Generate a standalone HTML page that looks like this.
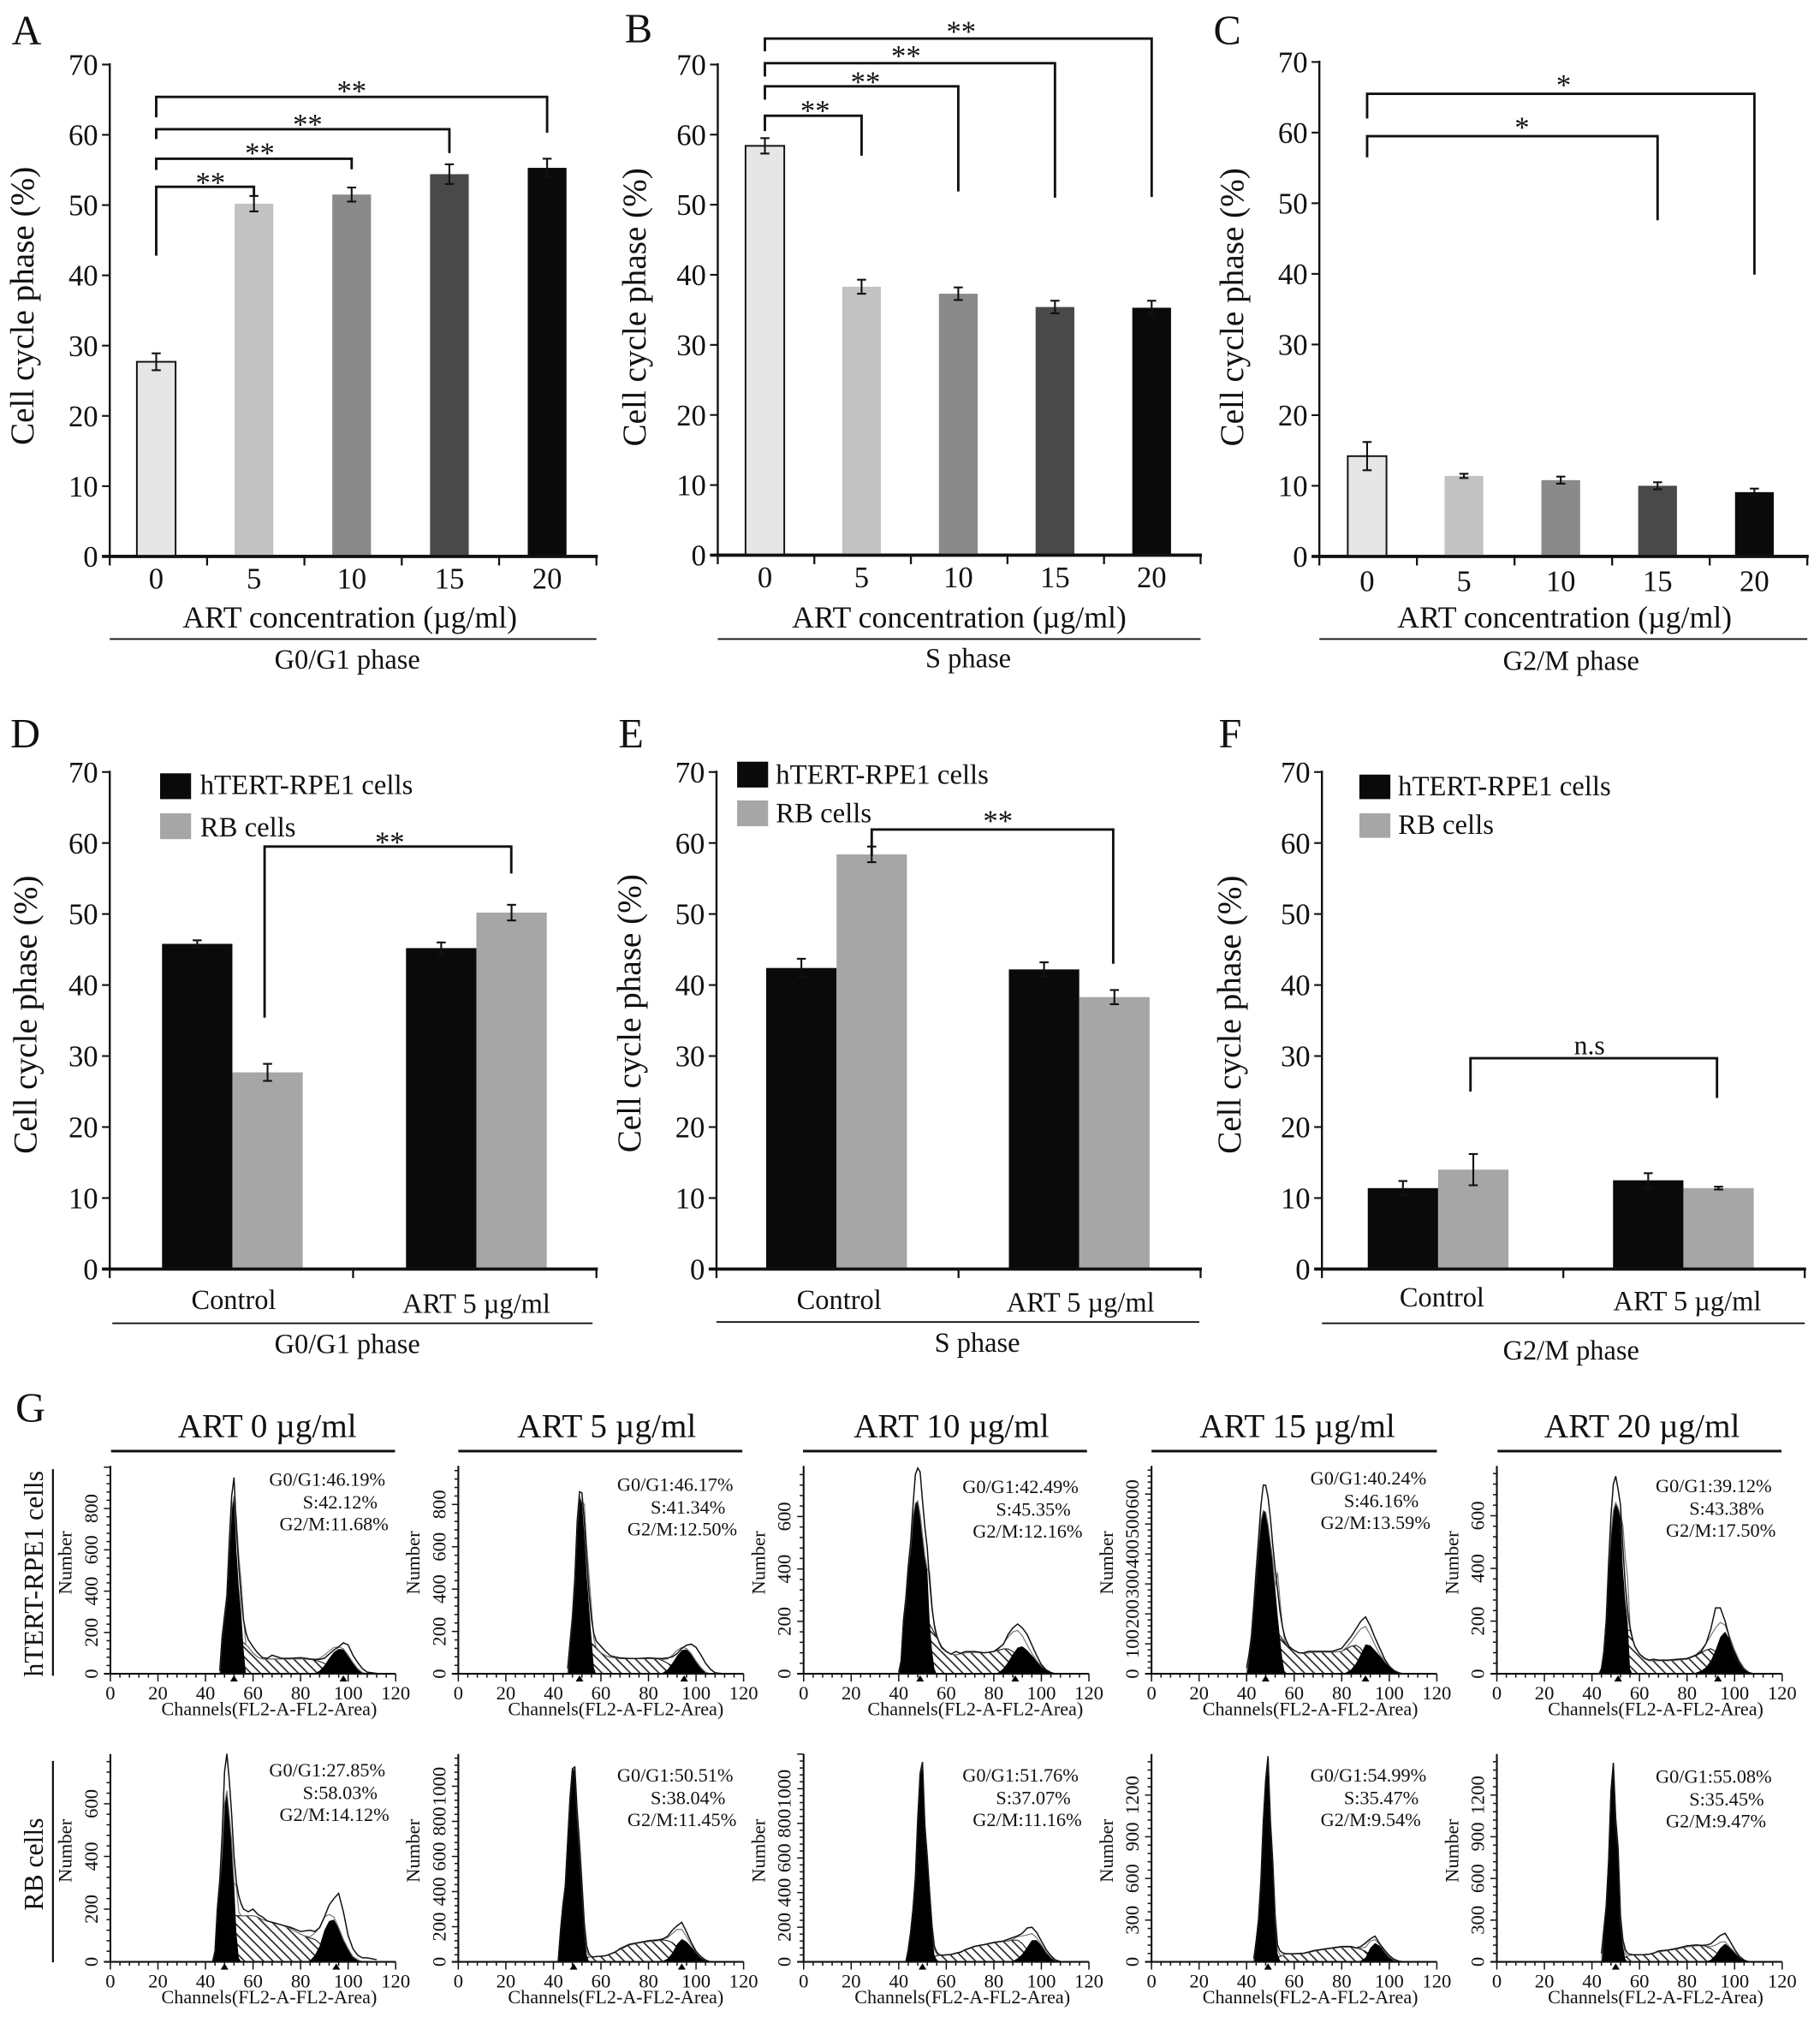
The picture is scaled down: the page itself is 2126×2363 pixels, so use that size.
<!DOCTYPE html>
<html lang="en">
<head>
<meta charset="utf-8">
<title>Cell cycle phase distribution after ART treatment</title>
<style>
html,body{margin:0;padding:0;background:#fff}
svg{display:block}
text{font-family:"Liberation Serif",serif;fill:#111}
.yt{font-size:26px;text-anchor:middle}
.xt{font-size:23.7px;text-anchor:middle}
.ph{font-size:21.5px;text-anchor:middle}
.lt{font-size:21.7px}
.pl{font-size:32px}
.ct{font-size:26px;text-anchor:middle}
.gl{font-size:21.5px;text-anchor:middle}
</style>
</head>
<body>
<svg id="fig" xmlns="http://www.w3.org/2000/svg" width="2126" height="2363" viewBox="0 0 1409.8 1567">
<defs>
<pattern id="hatch" width="5.2" height="5.2" patternUnits="userSpaceOnUse" patternTransform="rotate(-45)">
<line x1="1" y1="0" x2="1" y2="5.2" stroke="#111" stroke-width="1"/>
</pattern>
</defs>
<rect width="1409.8" height="1567" fill="#fff"/>

<text class="pl" x="9" y="34">A</text>
<text class="pl" x="484" y="33">B</text>
<text class="pl" x="940" y="34">C</text>
<text class="pl" x="8" y="579">D</text>
<text class="pl" x="479" y="579">E</text>
<text class="pl" x="944" y="579">F</text>
<text class="pl" x="12" y="1101">G</text>

<text class="yt" transform="translate(26,237) rotate(-90)">Cell cycle phase (%)</text>
<text class="yt" transform="translate(500,238) rotate(-90)">Cell cycle phase (%)</text>
<text class="yt" transform="translate(963,238) rotate(-90)">Cell cycle phase (%)</text>
<text class="yt" transform="translate(28,786) rotate(-90)">Cell cycle phase (%)</text>
<text class="yt" transform="translate(496,785) rotate(-90)">Cell cycle phase (%)</text>
<text class="yt" transform="translate(961,786) rotate(-90)">Cell cycle phase (%)</text>

<text class="xt" x="271" y="486">ART concentration (µg/ml)</text>
<text class="xt" x="743" y="486">ART concentration (µg/ml)</text>
<text class="xt" x="1212" y="486">ART concentration (µg/ml)</text>
<line x1="85" x2="462" y1="495" y2="495" stroke="#111" stroke-width="1.3"/>
<line x1="556" x2="930" y1="495" y2="495" stroke="#111" stroke-width="1.3"/>
<line x1="1022" x2="1400" y1="495" y2="495" stroke="#111" stroke-width="1.3"/>
<text class="ph" x="269" y="518">G0/G1 phase</text>
<text class="ph" x="750" y="517">S phase</text>
<text class="ph" x="1217" y="519">G2/M phase</text>

<text class="gl" x="181" y="1014">Control</text>
<text class="gl" x="369" y="1017">ART 5 µg/ml</text>
<line x1="87" x2="459" y1="1025" y2="1025" stroke="#111" stroke-width="1.3"/>
<text class="ph" x="269" y="1048">G0/G1 phase</text>

<text class="gl" x="650" y="1014">Control</text>
<text class="gl" x="837" y="1016">ART 5 µg/ml</text>
<line x1="555" x2="929" y1="1024" y2="1024" stroke="#111" stroke-width="1.3"/>
<text class="ph" x="757" y="1047">S phase</text>

<text class="gl" x="1117" y="1012">Control</text>
<text class="gl" x="1307" y="1015">ART 5 µg/ml</text>
<line x1="1024" x2="1398" y1="1025" y2="1025" stroke="#111" stroke-width="1.3"/>
<text class="ph" x="1217" y="1053">G2/M phase</text>

<rect x="124" y="599" width="24" height="20" fill="#0a0a0a"/>
<rect x="124" y="630" width="24" height="20" fill="#a6a6a6"/>
<text class="lt" x="155" y="615">hTERT-RPE1 cells</text>
<text class="lt" x="155" y="648">RB cells</text>
<rect x="571" y="590" width="24" height="20" fill="#0a0a0a"/>
<rect x="571" y="620" width="24" height="20" fill="#a6a6a6"/>
<text class="lt" x="601" y="607">hTERT-RPE1 cells</text>
<text class="lt" x="601" y="637">RB cells</text>
<rect x="1053" y="600" width="24" height="19" fill="#0a0a0a"/>
<rect x="1053" y="630" width="24" height="19" fill="#a6a6a6"/>
<text class="lt" x="1083" y="616">hTERT-RPE1 cells</text>
<text class="lt" x="1083" y="646">RB cells</text>

<text class="ct" x="207" y="1113">ART 0 µg/ml</text>
<text class="ct" x="470" y="1113">ART 5 µg/ml</text>
<text class="ct" x="737" y="1113">ART 10 µg/ml</text>
<text class="ct" x="1005" y="1113">ART 15 µg/ml</text>
<text class="ct" x="1272" y="1113">ART 20 µg/ml</text>
<line x1="86" x2="306" y1="1124" y2="1124" stroke="#111" stroke-width="2"/>
<line x1="355" x2="575" y1="1124" y2="1124" stroke="#111" stroke-width="2"/>
<line x1="622" x2="842" y1="1124" y2="1124" stroke="#111" stroke-width="2"/>
<line x1="892" x2="1113" y1="1124" y2="1124" stroke="#111" stroke-width="2"/>
<line x1="1160" x2="1380" y1="1124" y2="1124" stroke="#111" stroke-width="2"/>

<text font-size="21" text-anchor="middle" transform="translate(33,1219) rotate(-90)">hTERT-RPE1 cells</text>
<line x1="41" x2="41" y1="1138" y2="1298" stroke="#111" stroke-width="1.5"/>
<text font-size="21" text-anchor="middle" transform="translate(33,1444) rotate(-90)">RB cells</text>
<line x1="41" x2="41" y1="1364" y2="1520" stroke="#111" stroke-width="1.5"/>
</svg>

<script>
// ---------- bar chart data ----------
const percentTicks = [0, 10, 20, 30, 40, 50, 60, 70];
const concentrations = ['0', '5', '10', '15', '20'];
const concentrationShades = ['#e6e6e6', '#c2c2c2', '#8a8a8a', '#494949', '#0a0a0a'];
const valuesA = [27.7, 50.2, 51.5, 54.4, 55.3];
const errorsA = [1.2, 1.1, 1.0, 1.4, 1.3];
const valuesB = [58.4, 38.3, 37.3, 35.4, 35.3];
const errorsB = [1.1, 1.0, 0.9, 0.9, 1.0];
const valuesC = [14.2, 11.4, 10.8, 10.0, 9.1];
const errorsC = [2.0, 0.3, 0.5, 0.5, 0.5];

const htertD = [45.8, 45.2];
const htertErrD = [0.5, 0.8];
const rbD = [27.7, 50.2];
const rbErrD = [1.2, 1.1];
const htertE = [42.4, 42.2];
const htertErrE = [1.3, 1.0];
const rbE = [58.4, 38.3];
const rbErrE = [1.1, 1.0];
const htertF = [11.4, 12.5];
const htertErrF = [1.0, 1.0];
const rbF = [14.0, 11.4];
const rbErrF = [2.2, 0.2];

// significance brackets: [from category, to category, top value, left end value, right end value, label, label category position, label value]
const bracketsA = [
  [0, 1, 52.6, 42.8, 51.3, '**', 0.555, 53.8],
  [0, 2, 56.6, 55.0, 55.1, '**', 1.06, 58.0],
  [0, 3, 60.8, 59.4, 57.4, '**', 1.55, 62.1],
  [0, 4, 65.4, 62.5, 60.3, '**', 2.0, 66.8]
];
const bracketsB = [
  [0, 1, 62.7, 60.5, 57.0, '**', 0.52, 64.0],
  [0, 2, 66.9, 65.0, 51.9, '**', 1.04, 68.1],
  [0, 3, 70.2, 68.3, 51.0, '**', 1.46, 71.8],
  [0, 4, 73.7, 71.9, 51.1, '**', 2.03, 75.3]
];
const bracketsC = [
  [0, 3, 59.5, 56.5, 47.6, '*', 1.6, 61.3],
  [0, 4, 65.5, 62.0, 39.9, '*', 2.03, 67.3]
];
const bracketsD = [[0.132, 1.143, 59.5, 35.4, 55.7, '**', 0.645, 60.7]];
const bracketsE = [[0.145, 1.14, 61.9, 58.2, 43.0, '**', 0.665, 63.7]];
const bracketsF = [[0.132, 1.137, 29.7, 25.0, 24.1, 'n.s', 0.617, 31.5]];

// ---------- flow cytometry data (counts read per channel) ----------
const channelTicks = [0, 20, 40, 60, 80, 100, 120];
const flowYTicks = [
  [0, 200, 400, 600, 800], [0, 200, 400, 600, 800], [0, 200, 400, 600], [0, 100, 200, 300, 400, 500, 600], [0, 200, 400, 600],
  [0, 200, 400, 600], [0, 200, 400, 600, 800, 1000], [0, 200, 400, 600, 800, 1000], [0, 300, 600, 900, 1200], [0, 300, 600, 900, 1200]
];
const flowAxisMax = [1006, 982, 793, 694, 789, 789, 1184, 1201, 1496, 1496];
const flowStatsG1 = ['46.19', '46.17', '42.49', '40.24', '39.12', '27.85', '50.51', '51.76', '54.99', '55.08'];
const flowStatsS = ['42.12', '41.34', '45.35', '46.16', '43.38', '58.03', '38.04', '37.07', '35.47', '35.45'];
const flowStatsG2 = ['11.68', '12.50', '12.16', '13.59', '17.50', '14.12', '11.45', '11.16', '9.54', '9.47'];
const flowMarkers = [[52, 98], [51, 95], [49, 89], [48, 90], [51, 93], [48, 95], [48.5, 94], [50], [49], [50]];

// first channel of each G1 peak array (arrays step by one channel up to 58)
const g1Start = [46, 46, 40, 40, 43, 43, 42, 43, 43, 44];
const g1Fill = [
  [10, 170, 270, 370, 600, 800, 860, 600, 420, 300, 120, 0, 0],
  [20, 140, 260, 430, 700, 840, 810, 660, 470, 320, 170, 30, 0],
  [5, 50, 200, 280, 400, 480, 600, 650, 660, 610, 530, 450, 400, 200, 90, 20, 0, 0, 0],
  [20, 60, 120, 220, 330, 430, 510, 545, 540, 500, 440, 380, 290, 200, 120, 50, 5, 0, 0],
  [0, 20, 80, 200, 400, 530, 620, 650, 630, 600, 400, 280, 200, 20, 0, 0],
  [0, 40, 200, 300, 420, 600, 650, 560, 460, 300, 110, 15, 0, 0, 0, 0],
  [0, 180, 320, 430, 680, 920, 1090, 1100, 830, 640, 420, 180, 40, 0, 0, 0, 0],
  [0, 70, 170, 300, 480, 820, 1080, 1150, 780, 600, 380, 180, 40, 10, 0, 0],
  [20, 150, 300, 580, 1000, 1300, 1470, 1000, 700, 300, 60, 10, 0, 0, 0, 0],
  [60, 230, 400, 720, 1220, 1430, 1010, 800, 300, 120, 20, 0, 0, 0, 0]
];
const peakOutline = [
  [15, 180, 280, 380, 640, 860, 950, 700, 520, 370, 260, 200, 165],
  [25, 150, 270, 450, 720, 860, 855, 720, 540, 380, 260, 190, 155],
  [5, 50, 205, 290, 410, 500, 640, 760, 785, 770, 660, 560, 480, 350, 250, 185, 145, 120, 100],
  [20, 65, 125, 230, 345, 450, 560, 630, 630, 590, 520, 430, 350, 280, 210, 160, 125, 105, 90],
  [0, 20, 85, 205, 420, 600, 720, 750, 700, 640, 480, 340, 240, 175, 135, 105],
  [0, 42, 205, 310, 480, 720, 790, 690, 560, 400, 300, 250, 220, 200, 195, 190],
  [0, 180, 325, 435, 690, 940, 1100, 1110, 860, 670, 450, 220, 90, 45, 30, 28, 30],
  [0, 70, 172, 305, 490, 830, 1090, 1155, 790, 610, 400, 210, 90, 55, 42, 38],
  [20, 150, 305, 590, 1010, 1310, 1480, 1020, 720, 330, 120, 80, 65, 60, 58, 58],
  [60, 232, 405, 730, 1230, 1432, 1030, 820, 330, 160, 90, 60, 55, 52, 50]
];
const tailChannels = [60, 62, 64, 66, 68, 72, 76, 80, 84, 86, 88, 90, 92, 94, 96, 98, 100, 102, 104, 106, 108, 112];
const tailOutline = [
  [130, 100, 78, 75, 90, 75, 75, 78, 72, 70, 70, 75, 95, 115, 130, 150, 140, 90, 55, 25, 8, 2],
  [130, 105, 85, 80, 75, 72, 72, 75, 72, 72, 75, 80, 95, 120, 135, 140, 125, 90, 50, 22, 5, 0],
  [85, 75, 85, 78, 85, 85, 80, 85, 112, 150, 175, 190, 175, 150, 110, 70, 35, 15, 5, 0, 0, 0],
  [78, 70, 70, 75, 75, 75, 75, 85, 125, 150, 175, 190, 160, 120, 85, 50, 25, 10, 3, 0, 0, 0],
  [75, 60, 52, 55, 52, 52, 55, 58, 72, 85, 115, 170, 250, 250, 200, 130, 70, 35, 15, 5, 0, 0],
  [200, 180, 170, 155, 150, 140, 130, 115, 120, 115, 130, 170, 215, 240, 260, 190, 100, 50, 25, 15, 15, 8],
  [32, 35, 45, 55, 75, 100, 110, 120, 125, 130, 145, 180, 205, 225, 170, 110, 60, 30, 10, 0, 0, 0],
  [40, 42, 50, 55, 70, 90, 100, 112, 120, 130, 140, 150, 165, 195, 200, 170, 120, 70, 35, 10, 2, 0],
  [58, 60, 62, 70, 80, 90, 100, 110, 110, 100, 110, 135, 165, 185, 130, 85, 45, 18, 5, 0, 0, 0],
  [50, 52, 55, 62, 78, 85, 98, 115, 122, 118, 120, 130, 160, 190, 205, 150, 90, 40, 12, 0, 0, 0]
];
const sChannels = [52, 56, 58, 60, 62, 64, 68, 72, 76, 80, 84, 86, 88, 90, 92, 94, 96, 98, 100, 104];
const sPhase = [
  [150, 150, 130, 100, 80, 72, 72, 72, 72, 72, 70, 65, 60, 50, 35, 22, 10, 3, 0, 0],
  [140, 145, 125, 100, 85, 78, 72, 72, 72, 72, 70, 62, 50, 38, 25, 12, 5, 0, 0, 0],
  [205, 140, 105, 85, 75, 72, 80, 82, 80, 85, 95, 95, 85, 65, 40, 20, 8, 0, 0, 0],
  [150, 105, 90, 78, 70, 68, 72, 72, 72, 75, 92, 95, 85, 60, 35, 18, 5, 0, 0, 0],
  [165, 165, 105, 75, 58, 50, 50, 50, 52, 55, 70, 80, 90, 95, 85, 55, 25, 8, 0, 0],
  [175, 175, 175, 175, 170, 160, 150, 140, 125, 105, 90, 85, 70, 50, 25, 10, 0, 0, 0, 0],
  [20, 28, 30, 32, 35, 45, 70, 95, 108, 115, 120, 125, 120, 110, 85, 55, 28, 10, 0, 0],
  [20, 35, 38, 40, 42, 48, 68, 88, 98, 110, 118, 120, 125, 125, 105, 70, 38, 15, 3, 0],
  [20, 55, 58, 58, 58, 60, 75, 88, 98, 105, 108, 100, 90, 75, 50, 25, 8, 0, 0, 0],
  [20, 48, 50, 50, 52, 55, 72, 82, 92, 108, 115, 118, 110, 95, 70, 40, 15, 0, 0, 0]
];
const g2Channels = [80, 82, 84, 86, 88, 90, 92, 94, 96, 98, 100, 102, 104, 106, 108, 110];
const g2Fill = [
  [0, 0, 0, 3, 15, 40, 75, 105, 120, 118, 90, 55, 25, 6, 0, 0],
  [0, 0, 0, 5, 20, 50, 85, 112, 115, 95, 60, 30, 8, 0, 0, 0],
  [0, 5, 20, 45, 75, 100, 105, 90, 70, 50, 30, 15, 5, 0, 0, 0],
  [0, 5, 15, 35, 65, 98, 95, 78, 60, 42, 25, 12, 4, 0, 0, 0],
  [0, 0, 5, 12, 25, 50, 90, 140, 160, 130, 90, 50, 22, 5, 0, 0],
  [0, 0, 5, 25, 60, 120, 155, 160, 130, 85, 50, 20, 8, 0, 0, 0],
  [0, 0, 0, 5, 18, 50, 100, 130, 115, 85, 55, 25, 8, 0, 0, 0],
  [0, 0, 0, 0, 5, 20, 45, 85, 125, 125, 95, 55, 25, 8, 0, 0],
  [0, 0, 0, 0, 8, 30, 100, 135, 115, 75, 35, 12, 0, 0, 0, 0],
  [0, 0, 0, 0, 3, 15, 50, 100, 130, 105, 70, 35, 12, 0, 0, 0]
];

// ---------- helpers ----------
const svg = document.getElementById('fig');
const NS = 'http://www.w3.org/2000/svg';
function el(tag, name, attrs, parent) {
  const node = document.createElementNS(NS, tag);
  
  
  for (const key in attrs) node.setAttribute(key, attrs[key]);
  (parent || svg).appendChild(node);
  return node;
}
function line(name, x1, y1, x2, y2, width, parent) {
  return el('line', name, {x1: x1, y1: y1, x2: x2, y2: y2, stroke: '#111', 'stroke-width': width}, parent);
}
function label(name, str, x, y, size, anchor, parent) {
  const t = el('text', name, {x: x, y: y, 'font-size': size, 'text-anchor': anchor || 'middle'}, parent);
  t.textContent = str;
  return t;
}

function drawAxes(id, f, xTickCount, tickLabelY, labels, xAt) {
  const g = el('g', 'chart-' + id, {});
  const yScale = v => f.y0 - (f.y0 - f.y70) * v / 70;
  percentTicks.forEach(v => {
    line('y-tick-' + id + '-' + v, f.x0 - 6, yScale(v), f.x0, yScale(v), 1.4, g);
    label('y-tick-label-' + id + '-' + v, String(v), f.x0 - 9, yScale(v) + 8, 23, 'end', g);
  });
  line('y-axis-' + id, f.x0, f.y70 - 1, f.x0, f.y0 + 1, 1.6, g);
  line('x-axis-' + id, f.x0 - 6, f.y0, f.x1 + 1, f.y0, 2.4, g);
  for (let i = 0; i <= xTickCount; i++) {
    const x = f.x0 + (f.x1 - f.x0) * i / xTickCount;
    line('x-tick-' + id + '-' + i, x, f.y0, x, f.y0 + 7, 1.5, g);
  }
  if (labels) labels.forEach((s, i) => label('x-tick-label-' + id + '-' + s, s, xAt(i), tickLabelY, 23));
  return {g: g, yScale: yScale};
}
function drawError(id, x, yScale, v, e, g) {
  line('error-bar-' + id, x, yScale(v + e), x, yScale(v - e), 1.4, g);
  line('error-cap-top-' + id, x - 3.5, yScale(v + e), x + 3.5, yScale(v + e), 1.4, g);
  line('error-cap-bottom-' + id, x - 3.5, yScale(v - e), x + 3.5, yScale(v - e), 1.4, g);
}
function drawBrackets(id, brackets, xAt, yScale, g) {
  brackets.forEach((b, i) => {
    const name = 'significance-bracket-' + id + '-' + (i + 1);
    const pts = [xAt(b[0]), yScale(b[3]), xAt(b[0]), yScale(b[2]), xAt(b[1]), yScale(b[2]), xAt(b[1]), yScale(b[4])].join(' ');
    el('polyline', name, {points: pts, fill: 'none', stroke: '#111', 'stroke-width': 1.9}, g);
    const isStar = b[5] !== 'n.s';
    label('significance-label-' + id + '-' + (i + 1), b[5], xAt(b[6]), yScale(b[7]) + (isStar ? 11 : 7), isStar ? 23 : 21, 'middle', g);
  });
}
function drawSinglePanel(id, f, firstX, stepX, values, errors, brackets, tickLabelY) {
  const xAt = i => firstX + stepX * i;
  const a = drawAxes(id, f, 5, tickLabelY, concentrations, xAt);
  values.forEach((v, i) => {
    const attrs = {x: xAt(i) - 15, y: a.yScale(v), width: 30, height: f.y0 - a.yScale(v), fill: concentrationShades[i]};
    if (i === 0) { attrs.stroke = '#111'; attrs['stroke-width'] = 1.3; }
    el('rect', 'bar-' + id + '-' + concentrations[i], attrs, a.g);
  });
  values.forEach((v, i) => drawError(id + '-' + concentrations[i], xAt(i), a.yScale, v, errors[i], a.g));
  drawBrackets(id, brackets, xAt, a.yScale, a.g);
  line('x-axis-overlay-' + id, f.x0, f.y0, f.x1 + 1, f.y0, 2.4, a.g);
}
function drawGroupPanel(id, f, firstX, stepX, h, hErr, r, rErr, brackets) {
  const xAt = i => firstX + stepX * i;
  const a = drawAxes(id, f, 2, 0, null, xAt);
  const w = 54.5;
  h.forEach((v, i) => el('rect', 'bar-' + id + '-htert-' + i, {x: xAt(i) - w, y: a.yScale(v), width: w, height: f.y0 - a.yScale(v), fill: '#0a0a0a'}, a.g));
  r.forEach((v, i) => el('rect', 'bar-' + id + '-rb-' + i, {x: xAt(i), y: a.yScale(v), width: w, height: f.y0 - a.yScale(v), fill: '#a6a6a6'}, a.g));
  h.forEach((v, i) => drawError(id + '-htert-' + i, xAt(i) - w / 2, a.yScale, v, hErr[i], a.g));
  r.forEach((v, i) => drawError(id + '-rb-' + i, xAt(i) + w / 2, a.yScale, v, rErr[i], a.g));
  drawBrackets(id, brackets, xAt, a.yScale, a.g);
  line('x-axis-overlay-' + id, f.x0, f.y0, f.x1 + 1, f.y0, 2.4, a.g);
}

drawSinglePanel('a', {x0: 85, x1: 462, y0: 431, y70: 50}, 121, 75.7, valuesA, errorsA, bracketsA, 456);
drawSinglePanel('b', {x0: 556, x1: 930, y0: 430, y70: 50}, 592.5, 74.9, valuesB, errorsB, bracketsB, 455);
drawSinglePanel('c', {x0: 1022, x1: 1400, y0: 431, y70: 48}, 1059, 75, valuesC, errorsC, bracketsC, 458);
drawGroupPanel('d', {x0: 85, x1: 462, y0: 983, y70: 598}, 180, 189, htertD, htertErrD, rbD, rbErrD, bracketsD);
drawGroupPanel('e', {x0: 555, x1: 930, y0: 983, y70: 598}, 648, 188, htertE, htertErrE, rbE, rbErrE, bracketsE);
drawGroupPanel('f', {x0: 1024, x1: 1398, y0: 983, y70: 598}, 1114, 190, htertF, htertErrF, rbF, rbErrF, bracketsF);

// ---------- flow panels ----------
function lerpAt(xs, ys, x) {
  if (x <= xs[0] || x >= xs[xs.length - 1]) return 0;
  for (let i = 1; i < xs.length; i++) {
    if (x <= xs[i]) return ys[i - 1] + (ys[i] - ys[i - 1]) * (x - xs[i - 1]) / (xs[i] - xs[i - 1]);
  }
  return 0;
}
const columnLeft = [85.5, 355, 622.5, 892, 1159.5];
const rowLayouts = [{base: 1296.5, top: 1135.5, statY: [1146, 1150, 1151.5, 1145, 1151]}, {base: 1519.6, top: 1358.6, statY: [1371, 1375, 1375, 1375, 1376]}];
const plotW = 221;
const channelLabelDx = [123, 122, 133, 123, 123, 123, 122, 123, 123, 123];

for (let p = 0; p < 10; p++) {
  const row = rowLayouts[Math.floor(p / 5)];
  const col = p % 5;
  const x0 = columnLeft[col];
  const g = el('g', 'flow-panel-' + (p + 1), {});
  const xs = c => x0 + plotW * c / 120;
  const ys = n => row.base - (row.base - row.top) * n / flowAxisMax[p];

  const g1Channels = g1Fill[p].map((_, i) => g1Start[p] + i);
  const outlineChannels = g1Channels.concat(tailChannels);
  const outlineCounts = peakOutline[p].concat(tailOutline[p]);

  const sPts = sChannels.map((c, i) => xs(c) + ',' + ys(sPhase[p][i]));
  sPts.push(xs(sChannels[sChannels.length - 1]) + ',' + row.base, xs(sChannels[0]) + ',' + row.base);
  el('polygon', 'flow-s-phase-area-' + (p + 1), {points: sPts.join(' '), fill: 'url(#hatch)', stroke: '#111', 'stroke-width': 0.7}, g);

  const g1Pts = g1Channels.map((c, i) => xs(c) + ',' + ys(g1Fill[p][i]));
  g1Pts.unshift(xs(g1Channels[0]) + ',' + row.base);
  g1Pts.push(xs(g1Channels[g1Channels.length - 1]) + ',' + row.base);
  el('polygon', 'flow-g1-peak-' + (p + 1), {points: g1Pts.join(' '), fill: '#000'}, g);

  const g2Pts = g2Channels.map((c, i) => xs(c) + ',' + ys(g2Fill[p][i]));
  g2Pts.unshift(xs(g2Channels[0]) + ',' + row.base);
  g2Pts.push(xs(g2Channels[g2Channels.length - 1]) + ',' + row.base);
  el('polygon', 'flow-g2-peak-' + (p + 1), {points: g2Pts.join(' '), fill: '#000'}, g);

  const fitPts = [];
  for (let c = g1Start[p]; c <= 110; c += 1) {
    const sum = lerpAt(g1Channels, g1Fill[p], c) + lerpAt(sChannels, sPhase[p], c) + lerpAt(g2Channels, g2Fill[p], c);
    fitPts.push(xs(c) + ',' + ys(sum));
  }
  el('polyline', 'flow-fit-line-' + (p + 1), {points: fitPts.join(' '), fill: 'none', stroke: '#777', 'stroke-width': 0.8}, g);

  const outPts = outlineChannels.map((c, i) => xs(c) + ',' + ys(outlineCounts[i]));
  el('polyline', 'flow-histogram-outline-' + (p + 1), {points: outPts.join(' '), fill: 'none', stroke: '#111', 'stroke-width': 1}, g);

  // axes
  line('flow-x-axis-' + (p + 1), x0 - 5, row.base, x0 + plotW, row.base, 1.4, g);
  line('flow-y-axis-' + (p + 1), x0, row.top, x0, row.base, 1.4, g);
  for (let c = 0; c <= 120; c += 4) {
    const major = c % 20 === 0;
    line('flow-x-tick-' + (p + 1) + '-' + c, xs(c), row.base, xs(c), row.base + (major ? 6 : 3), 1, g);
  }
  channelTicks.forEach(c => label('flow-x-tick-label-' + (p + 1) + '-' + c, String(c), xs(c), row.base + 20, 15, 'middle', g));

  const yStep = flowYTicks[p][1] - flowYTicks[p][0];
  for (let n = 0; n <= flowAxisMax[p]; n += yStep / 5) {
    const major = n % yStep === 0;
    line('flow-y-tick-' + (p + 1) + '-' + n, x0 - (major ? 5 : 3), ys(n), x0, ys(n), 1, g);
  }
  flowYTicks[p].forEach(n => {
    const t = el('text', 'flow-y-tick-label-' + (p + 1) + '-' + n, {'font-size': 15, 'text-anchor': 'middle', transform: 'translate(' + (x0 - 10) + ',' + ys(n) + ') rotate(-90)'}, g);
    t.textContent = String(n);
  });
  flowMarkers[p].forEach((c, i) => {
    const pts = [(xs(c) - 3) + ',' + (row.base + 6) , (xs(c) + 3) + ',' + (row.base + 6), xs(c) + ',' + (row.base + 1.2)].join(' ');
    el('polygon', 'flow-peak-marker-' + (p + 1) + '-' + (i + 1), {points: pts, fill: '#000'}, g);
  });

  const numberLabel = el('text', 'flow-y-axis-title-' + (p + 1), {'font-size': 15, 'text-anchor': 'middle', transform: 'translate(' + (x0 - 30) + ',' + (row.base - 86) + ') rotate(-90)'}, g);
  numberLabel.textContent = 'Number';

  const channelLabel = el('text', 'flow-x-axis-title-' + (p + 1), {'font-size': 14.5, 'text-anchor': 'middle', x: x0 + channelLabelDx[p], y: row.base + 32, textLength: 167, lengthAdjust: 'spacingAndGlyphs'}, g);
  channelLabel.textContent = 'Channels(FL2-A-FL2-Area)';

  const sy = row.statY[col] + 5;
  label('flow-stat-g1-' + (p + 1), 'G0/G1:' + flowStatsG1[p] + '%', x0 + 123, sy, 14.8, 'start', g);
  label('flow-stat-s-' + (p + 1), 'S:' + flowStatsS[p] + '%', x0 + 149, sy + 17.5, 14.8, 'start', g);
  label('flow-stat-g2-' + (p + 1), 'G2/M:' + flowStatsG2[p] + '%', x0 + 131, sy + 34.5, 14.8, 'start', g);
}
</script>
</body>
</html>
